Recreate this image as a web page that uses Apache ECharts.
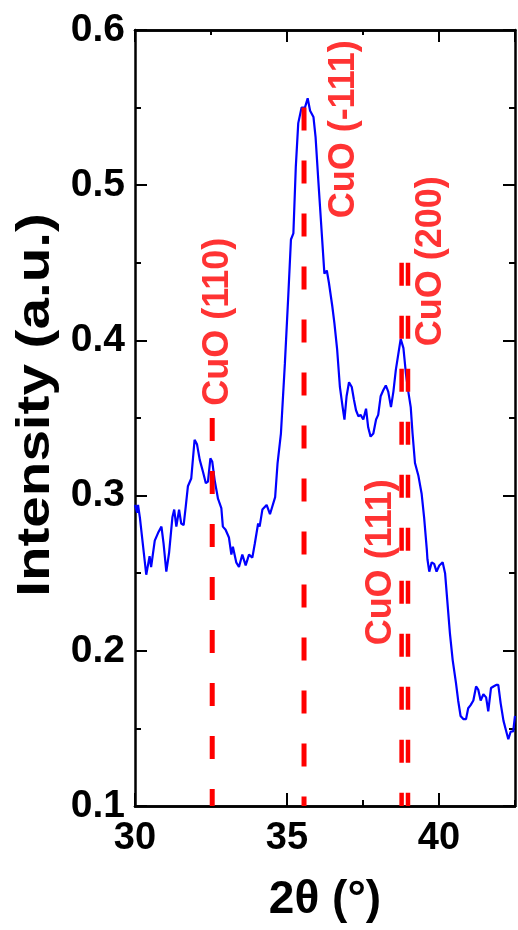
<!DOCTYPE html>
<html>
<head>
<meta charset="utf-8">
<script src="https://cdn.jsdelivr.net/npm/echarts@6/dist/echarts.min.js"></script>
<style>
  html, body { margin: 0; padding: 0; background: #fff; }
  #main { width: 518px; height: 930px; }
</style>
</head>
<body>
<div id="main"></div>
<script>
// XRD pattern
var twoTheta = [30.00, 30.07, 30.10, 30.16, 30.37, 30.48, 30.53, 30.65, 30.76, 30.87,
  30.94, 31.03, 31.12, 31.23, 31.29, 31.36, 31.45, 31.52, 31.60, 31.67,
  31.74, 31.85, 31.96, 32.04, 32.13, 32.24, 32.33, 32.40, 32.48, 32.54,
  32.62, 32.73, 32.84, 32.89, 32.98, 33.09, 33.17, 33.22, 33.33, 33.42,
  33.53, 33.64, 33.75, 33.86, 33.94, 34.05, 34.10, 34.19, 34.33, 34.44,
  34.61, 34.69, 34.80, 34.93, 35.04, 35.13, 35.21, 35.29, 35.37, 35.48,
  35.59, 35.68, 35.76, 35.87, 35.94, 36.03, 36.14, 36.23, 36.31, 36.38,
  36.49, 36.56, 36.65, 36.74, 36.83, 36.89, 36.96, 37.04, 37.13, 37.20,
  37.27, 37.35, 37.42, 37.51, 37.60, 37.67, 37.75, 37.84, 37.93, 38.00,
  38.08, 38.17, 38.25, 38.33, 38.42, 38.50, 38.58, 38.66, 38.74, 38.83,
  38.91, 38.99, 39.07, 39.13, 39.21, 39.32, 39.43, 39.51, 39.60, 39.62,
  39.68, 39.76, 39.84, 39.92, 40.01, 40.12, 40.20, 40.27, 40.36, 40.45,
  40.56, 40.63, 40.71, 40.80, 40.89, 40.96, 41.04, 41.13, 41.22, 41.29,
  41.37, 41.46, 41.55, 41.62, 41.71, 41.79, 41.88, 41.95, 42.03, 42.12,
  42.20, 42.28, 42.36, 42.44, 42.50];
var intensity = [0.294, 0.289, 0.294, 0.286, 0.249, 0.261, 0.254, 0.271, 0.276, 0.280,
  0.269, 0.251, 0.263, 0.286, 0.291, 0.280, 0.291, 0.282, 0.281, 0.293,
  0.306, 0.311, 0.336, 0.333, 0.323, 0.315, 0.308, 0.309, 0.324, 0.322,
  0.310, 0.298, 0.292, 0.280, 0.278, 0.273, 0.262, 0.267, 0.257, 0.254,
  0.262, 0.255, 0.262, 0.260, 0.269, 0.282, 0.280, 0.291, 0.294, 0.288,
  0.299, 0.321, 0.340, 0.385, 0.428, 0.465, 0.469, 0.512, 0.540, 0.550,
  0.550, 0.556, 0.548, 0.544, 0.531, 0.503, 0.470, 0.443, 0.445, 0.437,
  0.422, 0.411, 0.394, 0.370, 0.357, 0.349, 0.364, 0.373, 0.370, 0.362,
  0.355, 0.351, 0.352, 0.349, 0.356, 0.344, 0.338, 0.340, 0.349, 0.352,
  0.364, 0.368, 0.371, 0.367, 0.357, 0.367, 0.381, 0.391, 0.401, 0.395,
  0.379, 0.367, 0.357, 0.340, 0.321, 0.313, 0.301, 0.286, 0.265, 0.259,
  0.251, 0.257, 0.256, 0.251, 0.255, 0.257, 0.250, 0.233, 0.211, 0.194,
  0.179, 0.168, 0.158, 0.156, 0.156, 0.163, 0.165, 0.168, 0.177, 0.175,
  0.168, 0.172, 0.170, 0.161, 0.176, 0.177, 0.178, 0.178, 0.166, 0.155,
  0.149, 0.143, 0.148, 0.148, 0.158];

// reference peaks (dashed lines) and their labels
var peakNames = ['CuO (110)', 'CuO (-111)', 'CuO (111)', 'CuO (200)'];
var peakPos = [32.54, 35.56, 38.77, 38.98];
var peakTop = [0.35, 0.55, 0.45, 0.45];
var labelX = [32.73, 36.87, 38.09, 39.74];
var labelY = [0.412, 0.536, 0.257, 0.451];

var FONT = 'Arial, "Liberation Sans", sans-serif';

var curve = twoTheta.map(function (t, i) { return [t, intensity[i]]; });

var myChart = echarts.init(document.getElementById('main'));

function xAx(pos, interval, tickLen, labels) {
  return {
    type: 'value', position: pos, min: 30, max: 42.5, interval: interval,
    axisLine: { show: true, lineStyle: { color: '#000', width: 2.5 } },
    axisTick: { show: true, inside: true, length: tickLen, lineStyle: { color: '#000', width: 2 } },
    axisLabel: labels ? {
      show: true, color: '#000', fontSize: 38, fontWeight: 'bold', fontFamily: FONT,
      margin: 14, showMaxLabel: false
    } : { show: false },
    splitLine: { show: false }
  };
}
function yAx(pos, labels) {
  return {
    type: 'value', position: pos, min: 0.1, max: 0.6, interval: 0.1,
    axisLine: { show: true, lineStyle: { color: '#000', width: 2.5 } },
    axisTick: { show: true, inside: true, length: 12, lineStyle: { color: '#000', width: 2 } },
    minorTick: { show: true, splitNumber: 2, length: 6, lineStyle: { color: '#000', width: 2 } },
    axisLabel: labels ? {
      show: true, color: '#000', fontSize: 39, fontWeight: 'bold', fontFamily: FONT,
      margin: 10, formatter: function (v) { return v.toFixed(1); }
    } : { show: false },
    splitLine: { show: false }
  };
}

var xMain = xAx('bottom', 5, 13, true);
xMain.name = '2\u03b8 (\u00b0)';
xMain.nameLocation = 'middle';
xMain.nameGap = 71;
xMain.nameTextStyle = { color: '#000', fontSize: 46, fontWeight: 'bold', fontFamily: FONT };

var series = [{
  type: 'line',
  data: curve,
  showSymbol: false,
  lineStyle: { color: '#0000ff', width: 2.2 },
  xAxisIndex: 0, yAxisIndex: 0,
  z: 2
}];

peakPos.forEach(function (p, i) {
  series.push({
    type: 'line',
    data: [[p, peakTop[i]], [p, 0.1]],
    showSymbol: false,
    lineStyle: { color: '#ff0000', width: i >= 2 ? 4.5 : 5, type: [23, 30] },
    z: 3
  });
});

series.push({
  type: 'scatter',
  data: peakNames.map(function (n, i) { return [labelX[i], labelY[i], n]; }),
  symbolSize: 0,
  silent: true,
  label: {
    show: true, position: 'inside', rotate: 90,
    formatter: function (d) { return d.value[2]; },
    color: '#ff0000', fontSize: 36, fontWeight: 'bold', fontFamily: FONT
  },
  z: 4
});

var option = {
  animation: false,
  backgroundColor: '#fff',
  grid: { left: 135, right: 3, top: 30, bottom: 124 },
  xAxis: [xMain, xAx('bottom', 2.5, 6, false), xAx('top', 5, 12, false), xAx('top', 2.5, 5, false)],
  yAxis: [yAx('left', true), yAx('right', false)],
  // y axis title, a little stretched along its length as in the original figure
  graphic: [{
    type: 'text',
    x: 36, y: 405,
    rotation: Math.PI / 2,
    scaleX: 1.23,
    style: {
      text: 'Intensity (a.u.)',
      fill: '#000',
      font: 'bold 46px ' + FONT,
      textAlign: 'center',
      textVerticalAlign: 'middle'
    }
  }],
  series: series
};
myChart.setOption(option);
</script>
</body>
</html>
